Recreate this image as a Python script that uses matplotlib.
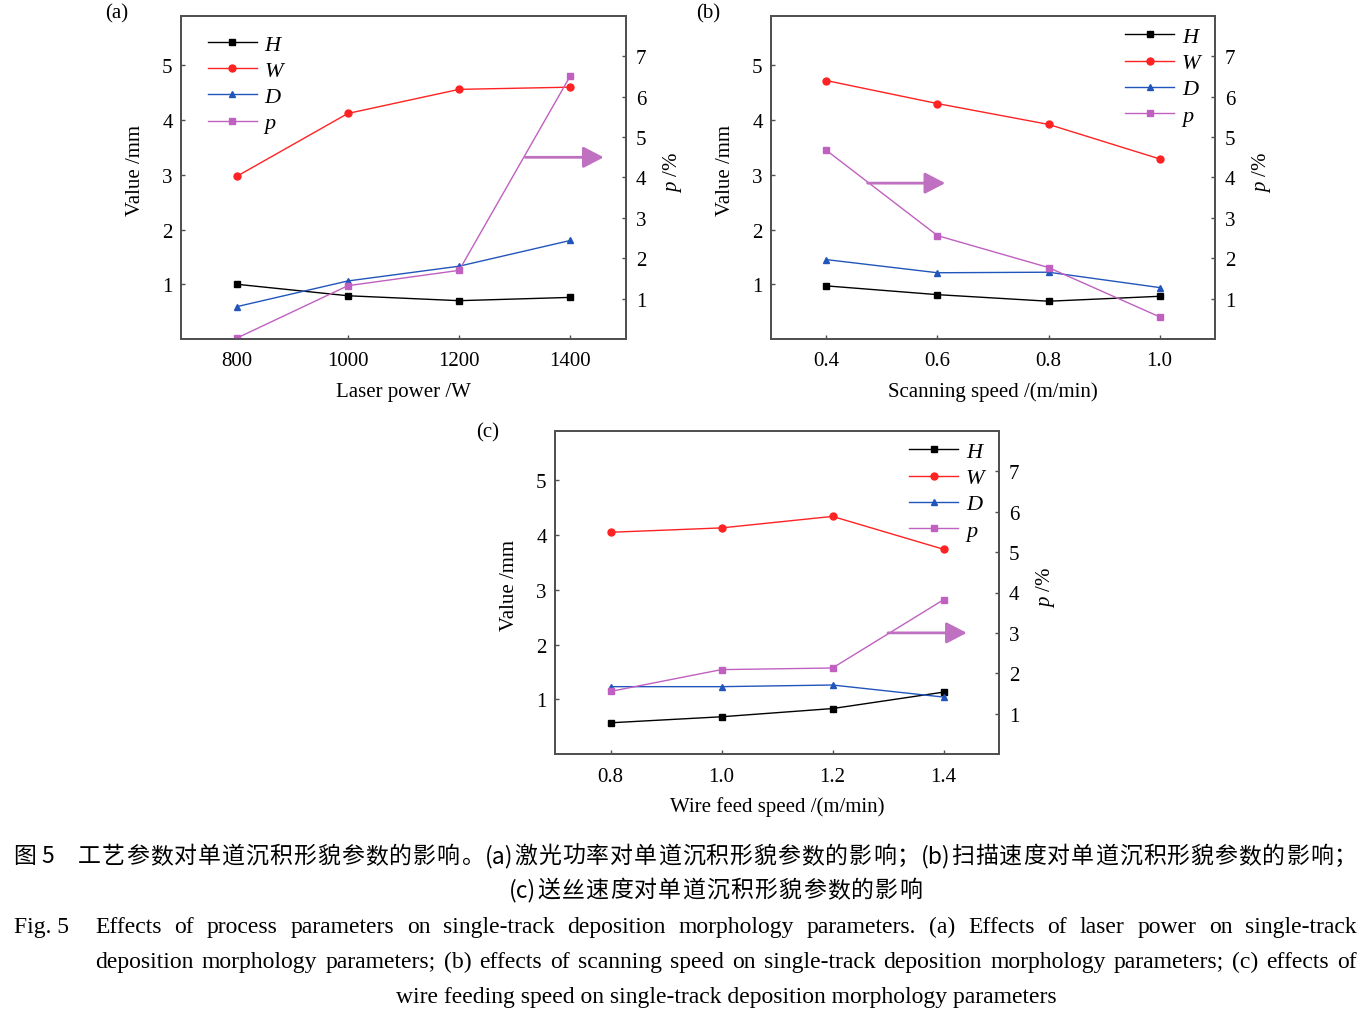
import matplotlib
matplotlib.use("Agg")
import matplotlib.pyplot as plt

plt.rcParams['font.family'] = ['Liberation Serif', 'DejaVu Serif']
plt.rcParams['mathtext.fontset'] = 'custom'
plt.rcParams['mathtext.it'] = 'Liberation Serif:italic'
plt.rcParams['mathtext.rm'] = 'Liberation Serif'

# ---------------- data ----------------
laser_power = [800, 1000, 1200, 1400]
a_H = [1.00, 0.79, 0.70, 0.76]
a_W = [2.97, 4.12, 4.56, 4.60]
a_D = [0.59, 1.06, 1.33, 1.80]
a_p = [0.02, 1.32, 1.70, 6.52]

scan_speed = [0.4, 0.6, 0.8, 1.0]
b_H = [0.97, 0.81, 0.69, 0.78]
b_W = [4.72, 4.30, 3.92, 3.29]
b_D = [1.45, 1.21, 1.22, 0.94]
b_p = [4.67, 2.56, 1.77, 0.55]

wire_speed = [0.8, 1.0, 1.2, 1.4]
c_H = [0.57, 0.68, 0.83, 1.13]
c_W = [4.05, 4.13, 4.34, 3.74]
c_D = [1.23, 1.23, 1.26, 1.04]
c_p = [1.55, 2.09, 2.13, 3.82]

left_ticks = [1, 2, 3, 4, 5]
right_ticks = [1, 2, 3, 4, 5, 6, 7]

C_H, C_W, C_D, C_P = '#000000', '#ff2222', '#2255bb', '#c060c0'
ARROW_C = '#c070c0'
SPINE_C = '#505050'

fig = plt.figure(figsize=(13.71, 10.20), dpi=100)
W_PX, H_PX = 1371, 1020


def ax_rect(x0, y0, x1, y1):
    return [x0 / W_PX, 1 - y1 / H_PX, (x1 - x0) / W_PX, (y1 - y0) / H_PX]


def panel(rect, x, H, Wd, D, p, xlim, xticks, xticklabels, xlabel, legloc,
          arrow_from, arrow_to, tag, tagpos):
    ax = fig.add_axes(rect)
    ax2 = ax.twinx()
    lw = 1.0
    ms = 5
    l1, = ax.plot(x, H, color=C_H, marker='s', ms=ms, lw=lw, label='H')
    l2, = ax.plot(x, Wd, color=C_W, marker='o', ms=ms, lw=lw, label='W')
    l3, = ax.plot(x, D, color=C_D, marker='^', ms=ms, lw=lw, label='D')
    l4, = ax2.plot(x, p, color=C_P, marker='s', ms=ms, lw=lw, label='p')
    ax.set_xlim(*xlim)
    ax.set_ylim(0, 5.9)
    ax2.set_ylim(0, 8.0)
    ax.set_xticks(xticks)
    ax.set_xticklabels(xticklabels)
    ax.set_yticks(left_ticks)
    ax2.set_yticks(right_ticks)
    for a in (ax, ax2):
        for s in a.spines.values():
            s.set_color(SPINE_C)
            s.set_linewidth(1.3)
    ax.tick_params(axis='both', direction='in', length=3, width=1,
                   color=SPINE_C, labelsize=15, top=False, right=False)
    ax.tick_params(axis='x', pad=9)
    ax.tick_params(axis='y', pad=6)
    ax2.tick_params(axis='y', direction='in', length=3, width=1,
                    color=SPINE_C, labelsize=15, pad=7)
    ax.set_ylabel('Value /mm', fontsize=15, va='center')
    ax.yaxis.set_label_coords(-0.103, 0.525)
    ax2.set_ylabel(r'$\it{p}$ /%', fontsize=15, va='center', rotation=90)
    ax2.yaxis.set_label_coords(1.105, 0.52)
    ax.set_xlabel(xlabel, fontsize=15)
    ax.xaxis.label.set_va('center')
    ax.xaxis.set_label_coords(0.5, -0.162)
    common = dict(frameon=False, borderpad=0, borderaxespad=0, handlelength=2.2,
                  handletextpad=0.35, labelspacing=0.25,
                  prop={'family': 'Liberation Serif', 'style': 'italic', 'size': 16})
    if legloc == 'left':
        ax2.legend(handles=[l1, l2, l3, l4], loc='upper left',
                   bbox_to_anchor=(0.06, 0.943), **common)
    else:
        ax2.legend(handles=[l1, l2, l3, l4], loc='upper right',
                   bbox_to_anchor=(0.967, 0.967), **common)
    ax2.annotate('', xy=arrow_to, xytext=arrow_from,
                 arrowprops=dict(arrowstyle='-|>,head_length=1.25,head_width=0.65',
                                 color=ARROW_C, lw=2.0, mutation_scale=10,
                                 shrinkA=0, shrinkB=0))
    fig.text(tagpos[0] / W_PX, 1 - tagpos[1] / H_PX, tag, fontsize=15,
             ha='center', va='center')
    return ax, ax2


panel(ax_rect(181, 17, 626, 340), laser_power, a_H, a_W, a_D, a_p,
      (700, 1500), laser_power, ['800', '1000', '1200', '1400'],
      'Laser power /W', 'left', (1319, 4.5), (1460, 4.5), '(a)', (117, 14))

panel(ax_rect(771, 17, 1215, 340), scan_speed, b_H, b_W, b_D, b_p,
      (0.3, 1.1), scan_speed, ['0.4', '0.6', '0.8', '1.0'],
      'Scanning speed /(m/min)', 'right', (0.474, 3.86), (0.614, 3.86), '(b)', (708, 14))

panel(ax_rect(555, 432, 999, 755), wire_speed, c_H, c_W, c_D, c_p,
      (0.7, 1.5), wire_speed, ['0.8', '1.0', '1.2', '1.4'],
      'Wire feed speed /(m/min)', 'right', (1.30, 3.0), (1.442, 3.0), '(c)', (488, 433))

# ---------------- caption ----------------
cn_family = ['Noto Sans CJK SC', 'DejaVu Sans']
en_family = ['Liberation Serif', 'DejaVu Serif']

fig.canvas.draw()
renderer = fig.canvas.get_renderer()


def text_width(s, size, family):
    t = fig.text(0, 0, s, fontsize=size, family=family)
    w = t.get_window_extent(renderer).width
    t.remove()
    return w


def put(x, y, s, size, family, ha='left'):
    fig.text(x / W_PX, 1 - y / H_PX, s, fontsize=size, family=family,
             ha=ha, va='baseline')


def justify(tokens, x0, x1, y, size, family):
    widths = [text_width(tk, size, family) for tk in tokens]
    gap = (x1 - x0 - sum(widths)) / (len(tokens) - 1)
    x = x0
    for tk, w in zip(tokens, widths):
        put(x, y, tk, size, family)
        x += w + gap


cn_line1 = '工艺参数对单道沉积形貌参数的影响。(a)激光功率对单道沉积形貌参数的影响；(b)扫描速度对单道沉积形貌参数的影响；'
cn_line2 = '(c)送丝速度对单道沉积形貌参数的影响'
en_line1 = 'Effects of process parameters on single-track deposition morphology parameters. (a) Effects of laser power on single-track'
en_line2 = 'deposition morphology parameters; (b) effects of scanning speed on single-track deposition morphology parameters; (c) effects of'
en_line3 = 'wire feeding speed on single-track deposition morphology parameters'


def cn_tokens(s):
    toks, buf = [], ''
    for ch in s:
        if ord(ch) < 128:
            buf += ch
        else:
            if buf:
                toks.append(buf)
                buf = ''
            toks.append(ch)
    if buf:
        toks.append(buf)
    return toks


CN_SIZE = 16.5
EN_SIZE = 17
CN_OFF = 7
EN_OFF = 6
put(14, 856 + CN_OFF, '图 5', CN_SIZE, cn_family)
justify(cn_tokens(cn_line1), 78, 1357, 856 + CN_OFF, CN_SIZE, cn_family)
justify(cn_tokens(cn_line2), 509, 922, 890 + CN_OFF, CN_SIZE, cn_family)

put(14, 927 + EN_OFF, 'Fig. 5', EN_SIZE, en_family)
justify(en_line1.split(' '), 95, 1357, 927 + EN_OFF, EN_SIZE, en_family)
justify(en_line2.split(' '), 95, 1357, 962 + EN_OFF, EN_SIZE, en_family)
put(726, 997 + EN_OFF, en_line3, EN_SIZE, en_family, ha='center')

fig.savefig('out.png', dpi=100)
